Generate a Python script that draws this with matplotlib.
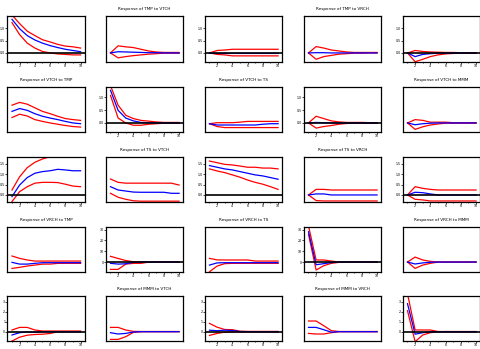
import matplotlib
matplotlib.use('Agg')
import matplotlib.pyplot as plt
from matplotlib.ticker import MultipleLocator, FixedLocator

names = ['TMP', 'VTCH', 'TS', 'VRCH', 'MMM']
periods = list(range(1, 11))

# each panel: [response, lower band, upper band], periods 1..10
tmp_tmp = [[1.375, 0.99, 0.71, 0.53, 0.40, 0.30, 0.22, 0.15, 0.10, 0.05],
           [1.24, 0.75, 0.40, 0.20, 0.06, 0.00, -0.04, -0.06, -0.08, -0.08],
           [1.55, 1.20, 0.89, 0.71, 0.54, 0.45, 0.35, 0.28, 0.25, 0.20]]
tmp_vtch = [[0, 0.05, 0.04, 0.03, 0.02, 0.01, 0.01, 0, 0, 0],
            [0, -0.20, -0.15, -0.11, -0.08, -0.05, -0.03, -0.01, -0.01, -0.01],
            [0, 0.29, 0.25, 0.22, 0.15, 0.08, 0.04, 0.02, 0.02, 0.02]]
tmp_ts = [[0, -0.02, -0.02, -0.02, -0.02, -0.02, -0.02, -0.02, -0.02, -0.02],
          [0, -0.06, -0.08, -0.12, -0.12, -0.12, -0.12, -0.12, -0.12, -0.12],
          [0, 0.10, 0.12, 0.15, 0.15, 0.15, 0.15, 0.15, 0.15, 0.15]]
tmp_vrch = [[0, 0.01, 0.01, 0, 0, 0, 0, 0, 0, 0],
            [0, -0.26, -0.15, -0.10, -0.05, -0.03, -0.01, -0.01, 0, 0],
            [0, 0.26, 0.20, 0.12, 0.08, 0.04, 0.02, 0.02, 0.02, 0.02]]
tmp_mmm = [[0, -0.15, -0.06, -0.03, -0.01, -0.01, 0, 0, 0, 0],
           [0, -0.36, -0.26, -0.15, -0.08, -0.04, -0.02, -0.01, -0.01, -0.01],
           [0, 0.10, 0.06, 0.04, 0.03, 0.02, 0.02, 0.01, 0.01, 0.01]]

vtch_tmp = [[0.45, 0.56, 0.49, 0.36, 0.26, 0.19, 0.13, 0.06, 0.0, -0.03],
            [0.21, 0.34, 0.27, 0.13, 0.06, 0.0, -0.05, -0.10, -0.14, -0.16],
            [0.69, 0.80, 0.73, 0.59, 0.45, 0.36, 0.26, 0.17, 0.13, 0.10]]
vtch_vtch = [[1.27, 0.49, 0.19, 0.08, 0.02, 0.01, 0, 0, 0, 0],
             [1.07, 0.19, 0.0, -0.09, -0.09, -0.05, -0.03, -0.01, -0.01, -0.01],
             [1.45, 0.69, 0.30, 0.17, 0.10, 0.07, 0.04, 0.02, 0.02, 0.02]]
vtch_ts = [[-0.03, -0.08, -0.08, -0.08, -0.08, -0.08, -0.08, -0.05, -0.03, -0.03],
           [-0.03, -0.14, -0.18, -0.18, -0.18, -0.18, -0.18, -0.18, -0.18, -0.18],
           [-0.03, 0.01, 0.01, 0.01, 0.03, 0.06, 0.06, 0.06, 0.06, 0.06]]
vtch_vrch = [[0, 0.02, 0.01, 0, 0, 0, 0, 0, 0, 0],
             [0, -0.20, -0.14, -0.10, -0.05, -0.02, -0.01, -0.01, -0.01, -0.01],
             [0, 0.26, 0.17, 0.08, 0.04, 0.02, 0.02, 0.02, 0.01, 0.01]]
vtch_mmm = [[0, -0.07, -0.03, -0.01, 0, 0, 0, 0, 0, 0],
            [0, -0.25, -0.15, -0.08, -0.04, -0.01, -0.01, -0.01, -0.01, -0.01],
            [0, 0.13, 0.10, 0.03, 0.03, 0.03, 0.01, 0.01, 0.01, 0.01]]

ts_tmp = [[-0.08, 0.48, 0.84, 1.05, 1.13, 1.17, 1.24, 1.21, 1.17, 1.17],
          [-0.32, 0.16, 0.40, 0.57, 0.61, 0.61, 0.60, 0.52, 0.43, 0.40],
          [0.24, 0.88, 1.32, 1.58, 1.74, 1.85, 1.90, 1.92, 1.90, 1.84]]
ts_vtch = [[0.40, 0.24, 0.19, 0.14, 0.13, 0.13, 0.13, 0.13, 0.08, 0.08],
           [0.08, -0.11, -0.21, -0.28, -0.30, -0.30, -0.30, -0.30, -0.30, -0.30],
           [0.77, 0.61, 0.57, 0.57, 0.57, 0.57, 0.57, 0.57, 0.57, 0.48]]
ts_ts = [[1.42, 1.34, 1.26, 1.21, 1.13, 1.05, 0.97, 0.92, 0.84, 0.76],
         [1.26, 1.16, 1.08, 0.97, 0.86, 0.72, 0.61, 0.52, 0.40, 0.27],
         [1.64, 1.56, 1.48, 1.45, 1.40, 1.34, 1.34, 1.30, 1.30, 1.26]]
ts_vrch = [[0, 0.05, 0.05, 0, 0, 0, 0, 0, 0, 0],
           [0, -0.27, -0.29, -0.29, -0.29, -0.29, -0.29, -0.29, -0.29, -0.29],
           [0, 0.27, 0.27, 0.24, 0.24, 0.24, 0.24, 0.24, 0.24, 0.24]]
ts_mmm = [[0, 0.13, 0.11, 0.05, 0, 0, 0, 0, 0, 0],
          [0, -0.21, -0.24, -0.29, -0.29, -0.29, -0.29, -0.29, -0.29, -0.29],
          [0, 0.40, 0.32, 0.27, 0.24, 0.24, 0.24, 0.24, 0.24, 0.24]]

vrch_tmp = [[-0.3, -1.9, -1.9, -1.2, -0.6, -0.6, -0.6, -0.6, -0.6, -0.6],
            [-5.9, -4.9, -3.7, -2.8, -1.9, -1.9, -1.2, -1.2, -1.2, -1.2],
            [5.6, 3.4, 1.9, 0.9, 0.9, 0.9, 0.9, 0.9, 0.9, 0.9]]
vrch_vtch = [[-1.2, -1.9, -1.6, -0.3, 0, 0, 0, 0, 0, 0],
             [-6.8, -6.8, -1.9, -1.2, -1.2, -0.1, 0, 0, 0, 0],
             [5.3, 3.3, 1.4, 0.3, 0.1, 0, 0, 0, 0, 0]]
vrch_ts = [[-2.8, -0.8, -0.6, -0.6, -0.6, -0.6, -0.6, -0.6, -0.6, -0.6],
           [-9.0, -3.7, -1.5, -1.2, -1.2, -1.2, -1.2, -1.2, -1.2, -1.2],
           [3.4, 2.0, 1.9, 1.9, 1.9, 1.9, 0.9, 0.9, 0.9, 0.9]]
vrch_vrch = [[28.0, -2.5, -1.5, -0.5, 0, 0, 0, 0, 0, 0],
             [25.6, -7.4, -3.4, -1.2, -0.3, 0, 0, 0, 0, 0],
             [33.5, 1.9, 1.9, 0.9, 0, 0, 0, 0, 0, 0]]
vrch_mmm = [[0, -1.8, -0.8, -0.2, 0, 0, 0, 0, 0, 0],
            [0, -5.9, -2.8, -1.2, 0, 0, 0, 0, 0, 0],
            [0, 4.6, 1.9, 0.6, 0, 0, 0, 0, 0, 0]]

mmm_tmp = [[-0.33, -0.10, -0.02, -0.05, 0, 0, 0, 0, 0, 0],
           [-0.93, -0.55, -0.35, -0.28, -0.25, -0.18, 0, 0, 0, 0],
           [0.17, 0.43, 0.43, 0.17, 0.07, 0.07, 0.07, 0.07, 0.07, 0.07]]
mmm_vtch = [[-0.10, -0.23, -0.17, -0.03, 0, 0, 0, 0, 0, 0],
            [-0.77, -0.77, -0.50, -0.07, 0, 0, 0, 0, 0, 0],
            [0.43, 0.43, 0.17, 0.03, 0.02, 0.02, 0.02, 0.02, 0.02, 0.02]]
mmm_ts = [[0.15, 0.10, 0.15, 0.12, 0.02, 0.01, 0, 0, 0, 0],
          [-0.37, -0.17, -0.05, -0.02, -0.02, -0.02, -0.02, -0.02, -0.02, -0.02],
          [0.83, 0.45, 0.22, 0.20, 0.05, 0.03, 0.03, 0.03, 0.03, 0.03]]
mmm_vrch = [[0.43, 0.43, 0.20, -0.05, 0, 0, 0, 0, 0, 0],
            [-0.17, -0.23, -0.23, -0.10, 0, 0, 0, 0, 0, 0],
            [1.07, 1.07, 0.60, 0.10, 0.02, 0.02, 0.02, 0.02, 0.02, 0.02]]
mmm_mmm = [[2.8, -0.25, -0.10, 0, 0, 0, 0, 0, 0, 0],
           [2.1, -1.0, -0.33, -0.10, 0, 0, 0, 0, 0, 0],
           [3.8, 0.17, 0.17, 0.17, 0.02, 0.02, 0.02, 0.02, 0.02, 0.02]]

grid = [[tmp_tmp, tmp_vtch, tmp_ts, tmp_vrch, tmp_mmm],
        [vtch_tmp, vtch_vtch, vtch_ts, vtch_vrch, vtch_mmm],
        [ts_tmp, ts_vtch, ts_ts, ts_vrch, ts_mmm],
        [vrch_tmp, vrch_vtch, vrch_ts, vrch_vrch, vrch_mmm],
        [mmm_tmp, mmm_vtch, mmm_ts, mmm_vrch, mmm_mmm]]

row_ylim = [(-0.35, 1.51), (-0.36, 1.41), (-0.35, 1.85), (-9.4, 32.7), (-0.95, 3.6)]
row_yticks = [[0, 0.5, 1.0], [0, 0.5, 1.0], [0, 0.5, 1.0, 1.5], [0, 10, 20, 30], [0, 1, 2, 3]]
row_fmt = ['%.1f', '%.1f', '%.1f', '%d', '%d']

W, H = 481, 349
col_left = [7.5, 106, 205, 304, 403]
row_top = [16, 86.7, 156.7, 226.7, 295.7]
pw, ph = 77.2, 45.5

fig = plt.figure(figsize=(W / 100, H / 100), dpi=100)

for i in range(5):
    for j in range(5):
        ax = fig.add_axes([col_left[j] / W, 1 - (row_top[i] + ph) / H, pw / W, ph / H])
        resp, lo, hi = grid[i][j]
        ax.plot(periods, hi, color='#ff0000', lw=0.9)
        ax.plot(periods, lo, color='#ff0000', lw=0.9)
        ax.plot(periods, resp, color='#0000ff', lw=0.9)
        ax.set_xlim(0.41, 10.54)
        ax.set_ylim(*row_ylim[i])
        for s in ax.spines.values():
            s.set_linewidth(0.9)
        if (i + j) % 2 == 0:
            ax.axhline(0, color='black', lw=1.2)
            ax.xaxis.set_major_locator(FixedLocator([2, 4, 6, 8, 10]))
            ax.xaxis.set_minor_locator(MultipleLocator(1))
            ax.set_yticks(row_yticks[i])
            ax.set_yticklabels([row_fmt[i] % v for v in row_yticks[i]])
            ax.tick_params(which='major', direction='out', length=1.2, width=0.5,
                           labelsize=2.3, pad=0.4)
            ax.tick_params(which='minor', direction='out', length=0.9, width=0.5)
        else:
            ax.set_xticks([])
            ax.set_yticks([])
            ax.set_title(f'Response of {names[i]} to {names[j]}', fontsize=3, pad=4)

fig.savefig('out.png', dpi=100)
